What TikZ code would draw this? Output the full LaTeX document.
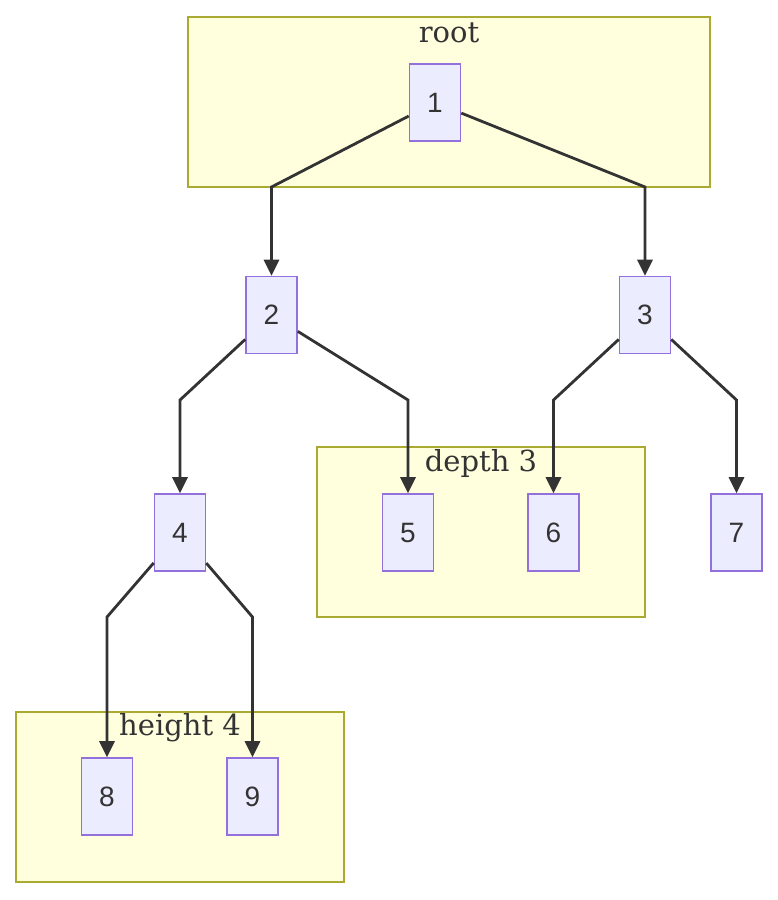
\documentclass[tikz,border=0pt]{standalone}
\usepackage{fontspec}
\setmainfont{DejaVu Serif}
\newfontfamily\nodefont{Liberation Sans}
\usetikzlibrary{arrows.meta}
\definecolor{clfill}{HTML}{FFFFDE}
\definecolor{cldraw}{HTML}{AAAA33}
\definecolor{ndfill}{HTML}{ECECFF}
\definecolor{nddraw}{HTML}{9370DB}
\definecolor{txt}{HTML}{333333}
\tikzset{
  treenode/.style={draw=nddraw, fill=ndfill, line width=1.6pt, minimum width=51pt, minimum height=77pt, inner sep=0pt, font=\nodefont\fontsize{28}{28}\selectfont, text=txt},
  cluster/.style={draw=cldraw, fill=clfill, line width=1.6pt},
  cllabel/.style={font=\fontsize{29}{29}\selectfont, text=txt, anchor=center},
  edge/.style={draw=txt, line width=2.8pt, -{Triangle[length=16pt,width=15pt]}}
}
\begin{document}
\begin{tikzpicture}[x=1pt,y=-1pt]
\useasboundingbox (0,0) rectangle (778,900);
% clusters
\draw[cluster] (188,17) rectangle (710,187);
\node[cllabel] (lroot) at (449,33) {root};
\draw[cluster] (317,447) rectangle (645,617);
\node[cllabel] (ldepth) at (481,463) {depth 3};
\draw[cluster] (16,712) rectangle (344,882);
\node[cllabel] (lheight) at (180,728) {height 4};
% nodes
\node[treenode] (n1) at (435,102.5) {1};
\node[treenode] (n2) at (271.5,315) {2};
\node[treenode] (n3) at (645,315) {3};
\node[treenode] (n4) at (180,532.5) {4};
\node[treenode] (n5) at (408,532.5) {5};
\node[treenode] (n6) at (553.5,532.5) {6};
\node[treenode] (n7) at (736.5,532.5) {7};
\node[treenode] (n8) at (107,796.5) {8};
\node[treenode] (n9) at (252.5,796.5) {9};
% bend points
\coordinate (c12) at (271.5,187);
\coordinate (c13) at (645,187);
\coordinate (c24) at (180,400);
\coordinate (c25) at (408,400);
\coordinate (c36) at (553.5,400);
\coordinate (c37) at (736.5,400);
\coordinate (c48) at (107,617);
\coordinate (c49) at (252.5,617);
% edges
\draw[edge] (n1) -- (c12) -- (n2);
\draw[edge] (n1) -- (c13) -- (n3);
\draw[edge] (n2) -- (c24) -- (n4);
\draw[edge] (n2) -- (c25) -- (n5);
\draw[edge] (n3) -- (c36) -- (n6);
\draw[edge] (n3) -- (c37) -- (n7);
\draw[edge] (n4) -- (c48) -- (n8);
\draw[edge] (n4) -- (c49) -- (n9);
\end{tikzpicture}
\end{document}
